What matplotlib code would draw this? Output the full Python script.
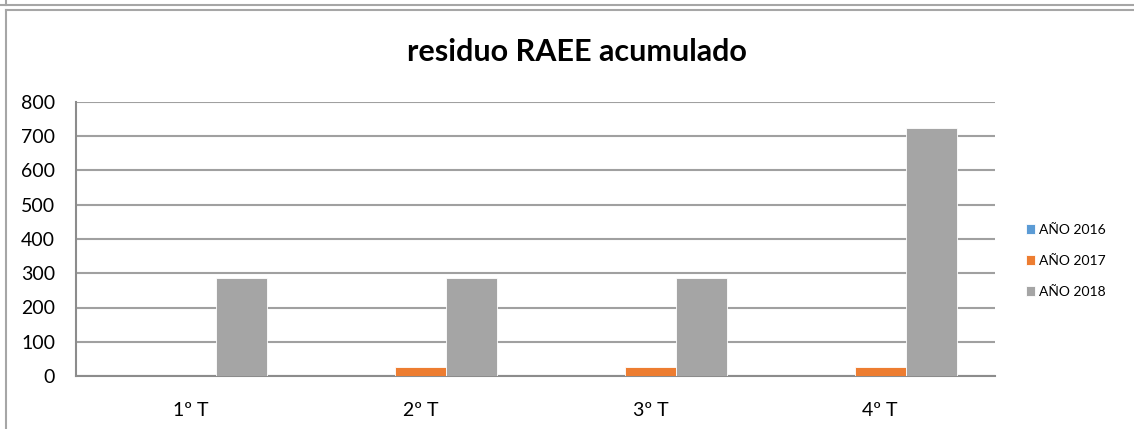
import numpy as np
import matplotlib.pyplot as plt
from matplotlib.lines import Line2D

plt.rcParams['font.family'] = ['Lato', 'DejaVu Sans']

categories = ["1º T", "2º T", "3º T", "4º T"]
series_names = ["AÑO 2016", "AÑO 2017", "AÑO 2018"]
values_2016 = [0, 0, 0, 0]
values_2017 = [0, 25, 25, 25]
values_2018 = [287, 287, 287, 725]
colors = ["#5B9BD5", "#ED7D31", "#A5A5A5"]

W, H = 1134, 429
fig = plt.figure(figsize=(W / 100, H / 100), dpi=100)

# outer chart borders (one cut off above, one framing this chart)
fig.add_artist(Line2D([0, 1], [1 - 5 / H, 1 - 5 / H], color="#a6a6a6", lw=1.5))
fig.add_artist(Line2D([6 / W, 1], [1 - 10 / H, 1 - 10 / H], color="#a6a6a6", lw=1.5))
fig.add_artist(Line2D([6 / W, 6 / W], [0, 1 - 10 / H], color="#a6a6a6", lw=1.5))
fig.add_artist(Line2D([6 / W, 6 / W], [1 - 5 / H, 1], color="#a6a6a6", lw=1.5))

ax = fig.add_axes([76 / W, 1 - 376 / H, (995 - 76) / W, (376 - 102) / H])

x = np.arange(len(categories))
bw = 0.222
for i, (vals, name) in enumerate(zip([values_2016, values_2017, values_2018], series_names)):
    ax.bar(x + (i - 1) * bw, vals, width=bw, color=colors[i], label=name,
           edgecolor="white", linewidth=0.6, zorder=3)

ax.set_xlim(-0.5, len(categories) - 0.5)
ax.set_ylim(0, 800)
ax.set_yticks(range(0, 801, 100))
ax.set_xticks(x)
ax.set_xticklabels(categories)
ax.yaxis.grid(True, color="#a0a0a0", linewidth=1.5, zorder=0)
ax.tick_params(axis="both", length=0, labelsize=14, colors="black")
ax.tick_params(axis="y", pad=15)
ax.tick_params(axis="x", pad=19)
for s in ["top", "right"]:
    ax.spines[s].set_visible(False)
for s in ["left", "bottom"]:
    ax.spines[s].set_color("#8c8c8c")
    ax.spines[s].set_linewidth(1.5)

fig.text(577 / W, 1 - 52 / H, "residuo RAEE acumulado", ha="center", va="center",
         fontsize=22, fontweight="bold")

leg = ax.legend(loc="center left", bbox_to_anchor=(1.0196, 0.42), frameon=False,
                fontsize=10, handlelength=0.7, handleheight=0.7, handletextpad=0.3,
                labelspacing=1.35)

fig.savefig("out.png", dpi=100, facecolor="white")
